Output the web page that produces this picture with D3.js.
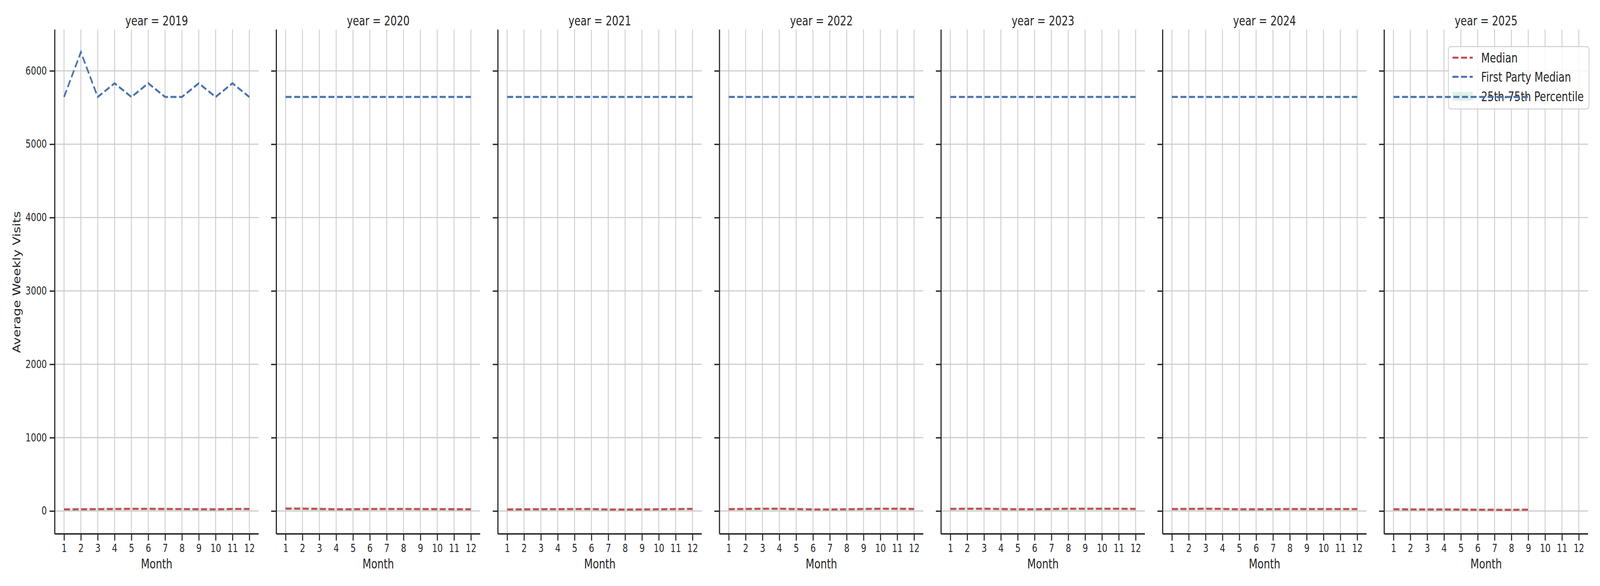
<html>
<head>
<script src="https://cdnjs.cloudflare.com/ajax/libs/d3/7.8.5/d3.min.js"></script>
<style>
  html, body { margin: 0; padding: 0; background: #fff; overflow: hidden; }
  svg { display: block; width: 100vw; height: 100vh; }
  text { font-family: "DejaVu Sans", sans-serif; fill: #262626; }
</style>
</head>
<body>
<svg viewBox="0 0 5250 1500" preserveAspectRatio="none"></svg>
<script>
// data
const years = [2019, 2020, 2021, 2022, 2023, 2024, 2025]
const months = [1, 2, 3, 4, 5, 6, 7, 8, 9, 10, 11, 12]
const yTicks = [0, 1000, 2000, 3000, 4000, 5000, 6000]

const medianValues = [
  [22, 23, 25, 27, 29, 29, 27, 26, 24, 22, 27, 27],
  [32, 31, 28, 23, 24, 27, 27, 27, 26, 25, 24, 23],
  [21, 22, 24, 25, 26, 26, 20, 19, 21, 23, 26, 28],
  [25, 27, 30, 30, 26, 21, 21, 23, 27, 30, 30, 27],
  [28, 30, 30, 27, 23, 23, 27, 30, 30, 30, 30, 28],
  [26, 28, 30, 28, 23, 23, 25, 26, 26, 26, 26, 26],
  [23, 21, 21, 21, 19, 17, 16, 15, 18]
]
const lowerValues = [
  [10, 10, 11, 11, 12, 12, 11, 11, 10, 10, 11, 11],
  [12, 11, 10, 8, 8, 10, 10, 10, 10, 9, 9, 8],
  [9, 9, 10, 10, 11, 11, 8, 8, 9, 10, 11, 12],
  [10, 11, 12, 12, 11, 9, 9, 10, 11, 12, 12, 11],
  [11, 12, 12, 11, 10, 10, 11, 12, 12, 12, 12, 11],
  [11, 12, 12, 12, 10, 10, 11, 11, 11, 11, 11, 11],
  [10, 9, 9, 9, 8, 8, 7, 7, 8]
]
const upperValues = [
  [42, 44, 46, 48, 50, 50, 48, 46, 44, 42, 47, 47],
  [62, 58, 52, 42, 43, 46, 46, 46, 45, 44, 43, 42],
  [40, 42, 44, 46, 47, 47, 41, 40, 42, 44, 46, 48],
  [45, 48, 52, 52, 48, 42, 41, 43, 47, 52, 52, 48],
  [48, 52, 52, 48, 44, 44, 48, 52, 52, 52, 50, 48],
  [46, 48, 52, 50, 44, 44, 46, 47, 47, 47, 46, 46],
  [44, 42, 42, 42, 40, 38, 36, 35, 38]
]
const firstPartyValues = [
  [5644, 6255, 5644, 5830, 5644, 5830, 5644, 5644, 5830, 5644, 5830, 5644],
  [5644, 5644, 5644, 5644, 5644, 5644, 5644, 5644, 5644, 5644, 5644, 5644],
  [5644, 5644, 5644, 5644, 5644, 5644, 5644, 5644, 5644, 5644, 5644, 5644],
  [5644, 5644, 5644, 5644, 5644, 5644, 5644, 5644, 5644, 5644, 5644, 5644],
  [5644, 5644, 5644, 5644, 5644, 5644, 5644, 5644, 5644, 5644, 5644, 5644],
  [5644, 5644, 5644, 5644, 5644, 5644, 5644, 5644, 5644, 5644, 5644, 5644],
  [5644, 5644, 5644, 5644, 5644, 5644, 5644, 5644, 5644]
]
const legendLabels = ['Median', 'First Party Median', '25th-75th Percentile']

const svg = d3.select('svg')
const panelLeft = 179.7
const panelStep = 727.05
const panelWidth = 668.8
const plotTop = 75.7
const plotBottom = 1366.7
const red = '#c44e52'
const blue = '#4c72b0'
const bandFill = 'rgb(143,208,185)'
const dash = '19.6,8.5'
const lineW = 5.3
const spine = '#262626'

const yScale = d3.scaleLinear().domain([-312.5, 6562.5]).range([plotBottom, plotTop])

const drawLegend = () => {
  const lg = svg.append('g')
  lg.append('rect').attr('x', 4752.6).attr('y', 119.3).attr('width', 461.4).attr('height', 159.7)
    .attr('rx', 8).attr('fill', 'white').attr('fill-opacity', 0.8)
    .attr('stroke', '#cccccc').attr('stroke-opacity', 0.8).attr('stroke-width', 3)
  const rows = [147.7, 196.7, 246.7]
  const colors = [red, blue]
  legendLabels.forEach((label, i) => {
    if (i < 2) {
      lg.append('line').attr('x1', 4766).attr('x2', 4832.5).attr('y1', rows[i]).attr('y2', rows[i])
        .attr('stroke', colors[i]).attr('stroke-width', lineW).attr('stroke-dasharray', dash)
    } else {
      lg.append('rect').attr('x', 4766).attr('y', rows[i] - 11.3).attr('width', 66.5).attr('height', 22.6)
        .attr('fill', bandFill).attr('fill-opacity', 0.3)
    }
    lg.append('text').attr('x', 4860).attr('y', rows[i] + 12).attr('font-size', 33).text(label)
  })
}

const drawPanel = (yi) => {
  const x0 = panelLeft + yi * panelStep
  const xScale = d3.scaleLinear().domain([0.45, 12.55]).range([x0, x0 + panelWidth])
  const g = svg.append('g')

  // grid
  g.append('g').selectAll('line').data(months).enter().append('line')
    .attr('x1', d => xScale(d)).attr('x2', d => xScale(d))
    .attr('y1', plotTop).attr('y2', plotBottom)
    .attr('stroke', '#cccccc').attr('stroke-width', 2.8)
  g.append('g').selectAll('line').data(yTicks).enter().append('line')
    .attr('x1', x0).attr('x2', x0 + panelWidth)
    .attr('y1', d => yScale(d)).attr('y2', d => yScale(d))
    .attr('stroke', '#cccccc').attr('stroke-width', 2.8)

  // the legend sits in the last panel, under its lines
  if (yi === years.length - 1) drawLegend()

  const lines = svg.append('g')
  const med = medianValues[yi].map((v, i) => ({ m: months[i], v, lo: lowerValues[yi][i], hi: upperValues[yi][i] }))
  const fpm = firstPartyValues[yi].map((v, i) => ({ m: months[i], v }))

  lines.append('path').datum(med)
    .attr('d', d3.area().x(d => xScale(d.m)).y0(d => yScale(d.lo)).y1(d => yScale(d.hi)))
    .attr('fill', bandFill).attr('fill-opacity', 0.3)

  lines.append('path').datum(med)
    .attr('d', d3.line().x(d => xScale(d.m)).y(d => yScale(d.v)))
    .attr('fill', 'none').attr('stroke', red).attr('stroke-width', lineW)
    .attr('stroke-dasharray', dash)

  lines.append('path').datum(fpm)
    .attr('d', d3.line().x(d => xScale(d.m)).y(d => yScale(d.v)))
    .attr('fill', 'none').attr('stroke', blue).attr('stroke-width', lineW)
    .attr('stroke-dasharray', dash)

  // axes
  const xAxis = d3.axisBottom(xScale).tickValues(months).tickSize(17).tickSizeOuter(0).tickPadding(10)
  const gx = lines.append('g').attr('transform', `translate(0,${plotBottom})`).call(xAxis)
  gx.select('.domain').attr('stroke', spine).attr('stroke-width', 3.75)
    .attr('d', `M${x0},0H${x0 + panelWidth}`)
  gx.selectAll('.tick line').attr('stroke', spine).attr('stroke-width', 3.4)
  gx.selectAll('.tick text').attr('font-size', 27.5).attr('fill', '#262626')
    .attr('font-family', '"DejaVu Sans"')

  const yAxis = d3.axisLeft(yScale).tickValues(yTicks).tickSize(17).tickSizeOuter(0).tickPadding(9)
    .tickFormat(yi > 0 ? '' : d3.format('d'))
  const gy = lines.append('g').attr('transform', `translate(${x0},0)`).call(yAxis)
  gy.select('.domain').attr('stroke', spine).attr('stroke-width', 3.75)
    .attr('d', `M0,${plotTop}V${plotBottom}`)
  gy.selectAll('.tick line').attr('stroke', spine).attr('stroke-width', 3.4)
  gy.selectAll('.tick text').attr('font-size', 27.5).attr('fill', '#262626')
    .attr('font-family', '"DejaVu Sans"')

  const cx = x0 + panelWidth / 2
  lines.append('text').attr('x', cx).attr('y', 65).attr('text-anchor', 'middle')
    .attr('font-size', 33).text(`year = ${years[yi]}`)
  lines.append('text').attr('x', cx).attr('y', 1455).attr('text-anchor', 'middle')
    .attr('font-size', 33).text('Month')
}

years.forEach((_, i) => drawPanel(i))

svg.append('text').attr('transform', 'translate(67,722) rotate(-90)')
  .attr('text-anchor', 'middle').attr('font-size', 33).text('Average Weekly Visits')
</script>
</body>
</html>
